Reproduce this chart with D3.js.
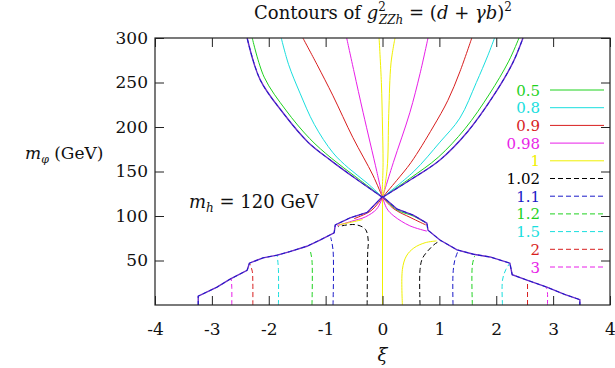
<!DOCTYPE html>
<html><head><meta charset="utf-8">
<script src="https://cdn.jsdelivr.net/npm/d3@7"></script>
<style>
body{margin:0;background:#fff}
svg{display:block}
</style>
</head><body>
<svg id="chart" width="615" height="368"></svg>
<script>
// ---- data: contour levels of g^2_ZZh in the (xi, m_phi) plane, m_h = 120 GeV ----
const levels = ["0.5", "0.8", "0.9", "0.98", "1", "1.02", "1.1", "1.2", "1.5", "2", "3"];
const xTicks = [-4, -3, -2, -1, 0, 1, 2, 3, 4];
const yTicks = [50, 100, 150, 200, 250, 300];

// edge of the allowed region, upper branch ([xi, m_phi])
const edgeUpperLeft  = [[0,121],[-0.45,141],[-0.9,162],[-1.31,183],[-1.75,216],[-2.15,253],[-2.38,300]];
const edgeUpperRight = [[0,121],[0.5,141],[1.01,163],[1.5,195],[1.94,234],[2.29,272],[2.47,300]];
// edge of the allowed region, lower branch
const edgeLower = [[-3.24,0],[-3.24,10],[-2.91,20],[-2.68,29],[-2.38,39],[-2.34,47],[-2.10,53],[-1.85,56],
  [-1.63,60],[-1.33,66],[-1.10,73],[-0.85,81],[-0.83,90],[-0.57,98],[-0.27,104],[0,122],[0.25,108],
  [0.54,101],[0.78,92],[0.80,84],[1.01,73],[1.31,62],[1.60,57],[1.89,54],[2.24,47],[2.28,34],[2.54,28],
  [2.89,20],[3.20,12],[3.47,6],[3.47,0]];

// upper branch contours
const c05UL  = [[0,121],[-0.45,143],[-0.9,165],[-1.28,187],[-1.7,219],[-2.08,256],[-2.29,300]];
const c05UR  = [[0,121],[0.5,143],[0.98,166],[1.45,198],[1.88,237],[2.22,274],[2.40,300]];
const c08UL  = [[0,121],[-0.27,137],[-0.6,154],[-0.87,171],[-1.2,203],[-1.45,238],[-1.65,270],[-1.78,300]];
const c08UR  = [[0,121],[0.55,150],[1.01,183],[1.36,210],[1.65,250],[1.85,280],[1.97,300]];
const c09UL  = [[0,121],[-0.17,146],[-0.52,188],[-0.87,235],[-1.15,270],[-1.40,300]];
const c09UR  = [[0,121],[0.25,140],[0.5,160],[0.89,200],[1.15,230],[1.36,262],[1.57,300]];
const c098UL = [[0,121],[-0.1,150],[-0.34,216],[-0.5,262],[-0.63,300]];
const c098UR = [[0,121],[0.19,160],[0.48,216],[0.66,260],[0.80,300]];
const c1U    = [[-0.06,300],[-0.02,250],[0.0,200],[0.01,160],[0,121],[0.08,152],[0.11,215],[0.15,272],[0.22,300]];

// lower branch contours
const c1LowA   = [[0,0],[0,121]];
const c1LowB   = [[0.35,0],[0.35,40],[0.42,55],[0.55,64],[0.75,70],[0.95,72]];
const c102L    = [[-0.27,0],[-0.26,60],[-0.25,72],[-0.30,85],[-0.45,90],[-0.62,90],[-0.78,88]];
const c102R    = [[0.66,0],[0.66,40],[0.70,52],[0.80,61],[0.93,69],[1.02,72]];
const c11L     = [[-0.87,0],[-0.87,62],[-0.91,76]];
const c11R     = [[1.24,0],[1.24,35],[1.27,50],[1.33,61]];
const c12L     = [[-1.24,0],[-1.24,50],[-1.27,61]];
const c12R     = [[1.58,0],[1.58,45],[1.62,55]];
const c15L     = [[-1.83,0],[-1.83,40],[-1.85,55]];
const c15R     = [[2.11,0],[2.11,28],[2.17,40],[2.24,47]];
const c2L      = [[-2.28,0],[-2.28,25],[-2.29,38],[-2.33,46]];
const c2R      = [[2.55,0],[2.55,27]];
const c3L      = [[-2.65,0],[-2.65,20],[-2.66,30]];
const c3R      = [[2.90,0],[2.90,14],[2.88,20]];
// short contours squeezed just under the crossing point
const c098LoL  = [[0,121],[-0.1,108],[-0.3,99],[-0.55,94],[-0.8,89]];
const c09LoL   = [[0,121],[-0.2,106],[-0.5,97]];
const c1LoL    = [[-0.35,96],[-0.55,93],[-0.78,90]];
const c098LoR  = [[0,121],[0.08,108],[0.2,100],[0.48,89],[0.78,83]];
const c09LoR   = [[0,121],[0.2,108],[0.5,98],[0.76,90]];
const c05LoR   = [[0,122],[0.25,107],[0.54,100],[0.77,92]];

// which level each curve belongs to
const curveTable = [
  ["0.5", c05UL], ["0.5", c05UR], ["0.8", c08UL], ["0.8", c08UR],
  ["0.9", c09UL], ["0.9", c09UR], ["0.98", c098UL], ["0.98", c098UR], ["1", c1U],
  ["1", c1LowA], ["1", c1LowB], ["1.02", c102L], ["1.02", c102R],
  ["1.1", c11L], ["1.1", c11R], ["1.2", c12L], ["1.2", c12R],
  ["1.5", c15L], ["1.5", c15R], ["2", c2L], ["2", c2R], ["3", c3L], ["3", c3R],
  ["0.98", c098LoL], ["0.9", c09LoL], ["1", c1LoL],
  ["0.98", c098LoR], ["0.9", c09LoR], ["0.5", c05LoR]
];
const edgeTable = [edgeUpperLeft, edgeUpperRight, edgeLower];

// ---- styles ----
const colour = {
  "0.5": "#1fd21f", "0.8": "#19dede", "0.9": "#d81e1e", "0.98": "#e81ee8", "1": "#f0f000",
  "1.02": "#000000", "1.1": "#1a1ac8", "1.2": "#1fd21f", "1.5": "#19dede", "2": "#d81e1e", "3": "#e81ee8",
  "edge": "#6a2cc8"
};
const dashed = l => +l > 1;
const serif = "DejaVu Serif";

const svg = d3.select("#chart");
const L = 155, R = 610, T = 38, B = 305;
const x = d3.scaleLinear().domain([-4, 4]).range([L, R]);
const y = d3.scaleLinear().domain([0, 300]).range([B, T]);

const smooth = d3.line().x(d => x(d[0])).y(d => y(d[1])).curve(d3.curveCatmullRom.alpha(0.5));
const straight = d3.line().x(d => x(d[0])).y(d => y(d[1]));

// contours
const g = svg.append("g");
curveTable.forEach(([lvl, pts]) => {
  g.append("path").attr("d", smooth(pts))
    .attr("fill", "none")
    .attr("stroke", colour[lvl])
    .attr("stroke-width", 1)
    .attr("stroke-dasharray", dashed(lvl) ? "5,3" : null);
});
// region edge: solid purple with the 1.1 dashed contour running along it
edgeTable.forEach((pts, i) => {
  const gen = i < 2 ? smooth : straight;
  g.append("path").attr("d", gen(pts)).attr("fill", "none")
    .attr("stroke", colour.edge).attr("stroke-width", 1.4);
  g.append("path").attr("d", gen(pts)).attr("fill", "none")
    .attr("stroke", colour["1.1"]).attr("stroke-width", 1).attr("stroke-dasharray", "4,3");
});

// frame
svg.append("rect").attr("x", L).attr("y", T).attr("width", R - L).attr("height", B - T)
  .attr("fill", "none").attr("stroke", "#222").attr("stroke-width", 1.2);

// axes with inward ticks on all four sides
const axB = svg.append("g").attr("transform", `translate(0,${B})`)
  .call(d3.axisBottom(x).tickValues(xTicks).tickSize(-9).tickPadding(18).tickFormat(d => String(d)));
const axT = svg.append("g").attr("transform", `translate(0,${T})`)
  .call(d3.axisTop(x).tickValues(xTicks).tickSize(-9).tickFormat(""));
const axL = svg.append("g").attr("transform", `translate(${L},0)`)
  .call(d3.axisLeft(y).tickValues(yTicks).tickSize(-9).tickPadding(7).tickFormat(d => String(d)));
const axR = svg.append("g").attr("transform", `translate(${R},0)`)
  .call(d3.axisRight(y).tickValues(yTicks).tickSize(-9).tickFormat(""));
[axB, axT, axL, axR].forEach(a => {
  a.attr("font-family", serif).attr("font-size", 17);
  a.select(".domain").remove();
  a.selectAll("line").attr("stroke", "#222");
  a.selectAll("text").attr("fill", "#111");
});

function txt(xp, yp, size, anchor) {
  return svg.append("text").attr("x", xp).attr("y", yp).attr("text-anchor", anchor || "start")
    .attr("font-family", serif).attr("font-size", size).attr("fill", "#111");
}

// title
const title = txt(383, 19, 18, "middle");
title.append("tspan").text("Contours of ");
title.append("tspan").attr("font-style", "italic").text("g");
title.append("tspan").attr("dy", -8).attr("font-size", 12).text("2");
title.append("tspan").attr("dx", -7).attr("dy", 13).attr("font-size", 12).attr("font-style", "italic").text("ZZh");
title.append("tspan").attr("dy", -5).text(" = (");
title.append("tspan").attr("font-style", "italic").text("d");
title.append("tspan").text(" + ");
title.append("tspan").attr("font-style", "italic").text("γb");
title.append("tspan").text(")");
title.append("tspan").attr("dy", -8).attr("font-size", 12).text("2");

// axis titles
const yl = txt(25, 159, 17);
yl.append("tspan").attr("font-style", "italic").text("m");
yl.append("tspan").attr("dy", 4).attr("font-size", 11).attr("font-style", "italic").text("φ");
yl.append("tspan").attr("dy", -4).text(" (GeV)");
txt(x(0), 361, 18, "middle").attr("font-style", "italic").text("ξ");

// annotation
const ann = txt(189, 208, 18);
ann.append("tspan").attr("font-style", "italic").text("m");
ann.append("tspan").attr("dy", 4).attr("font-size", 12).attr("font-style", "italic").text("h");
ann.append("tspan").attr("dy", -4).text(" = 120 GeV");

// legend
levels.forEach((lvl, i) => {
  const cy = 90 + i * 17.7;
  txt(540, cy + 5.5, 15, "end").attr("fill", colour[lvl]).text(lvl);
  svg.append("line").attr("x1", 550).attr("x2", 604).attr("y1", cy).attr("y2", cy)
    .attr("stroke", colour[lvl]).attr("stroke-width", 1)
    .attr("stroke-dasharray", dashed(lvl) ? "5,3" : null);
});
</script>
</body></html>
